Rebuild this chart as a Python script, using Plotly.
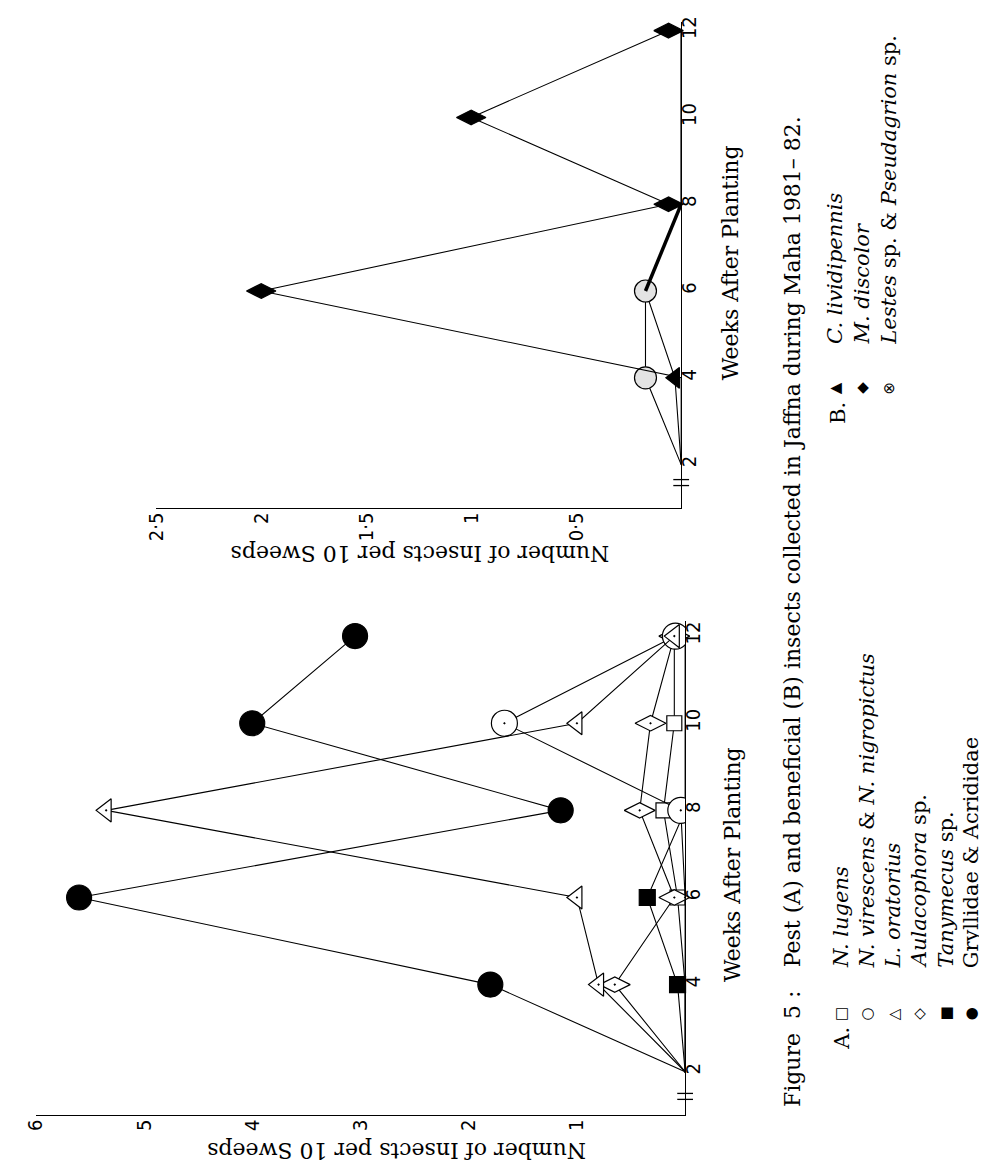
import plotly.graph_objects as go

# ---------------- data ----------------
weeks = [2, 4, 6, 8, 10, 12]

# Panel A (pests) - number of insects per 10 sweeps
a_lugens = [0, 0, 0.07, 0.2, 0.1, 0.1]
a_virescens = [0, 0, 0, 0.04, 1.67, 0.09]
a_oratorius = [0, 0.8, 1.0, 5.35, 1.0, 0.1]
a_aulacophora = [0, 0.65, 0.1, 0.42, 0.32, 0.1]
a_tanymecus = [0, 0.07, 0.35, 0, 0, 0]
a_gryllidae = [0, 1.8, 5.6, 1.15, 4.0, 3.05]

# Panel B (beneficials)
b_lividipennis = [0, 0.03, 0.17, 0, 0, 0]
b_discolor = [0, 0, 2.0, 0.06, 1.0, 0.06]
b_lestes = [0, 0.17, 0.17, 0, 0, 0]

a_count_ticks = [1, 2, 3, 4, 5, 6]
b_count_ticks = [0.5, 1, 1.5, 2, 2.5]
b_count_ticktext = ["0·5", "1", "1·5", "2", "2·5"]
week_ticks = [2, 4, 6, 8, 10, 12]

legend_a_symbols = ["□", "○", "△", "◇", "■", "●"]
legend_a_names = ["<i>N. lugens</i>",
                  "<i>N. virescens</i> & <i>N. nigropictus</i>",
                  "<i>L. oratorius</i>",
                  "<i>Aulacophora</i> sp.",
                  "<i>Tanymecus</i> sp.",
                  "Gryllidae & Acrididae"]
legend_b_symbols = ["▲", "◆", "⊗"]
legend_b_names = ["<i>C. lividipennis</i>",
                  "<i>M. discolor</i>",
                  "<i>Lestes</i> sp. & <i>Pseudagrion</i> sp."]

# ---------------- layout helpers ----------------
W, H = 987, 1166
SERIF = "DejaVu Serif, Liberation Serif, serif"
NARROW = "Liberation Sans Narrow, DejaVu Sans Condensed, Liberation Sans, sans-serif"


def px(x):
    return x / W


def py(y):
    return 1 - y / H


def ann(text, x, y, angle=-90, size=21, xanchor="center", yanchor="middle", family=SERIF):
    if angle == -90:
        x, y = x - 8, y - 7
    elif angle == 180:
        y = y - 4
    return dict(text=text, x=px(x), y=py(y), xref="paper", yref="paper",
                showarrow=False, textangle=angle,
                font=dict(family=family, size=size, color="black"),
                xanchor=xanchor, yanchor=yanchor)


fig = go.Figure()


def add(xs, ys, symbol, size, fill, axes, lw=1.1, mlw=1.2, clip=False, markers=True):
    xa, ya = axes
    sizes = [size if v > 0 else 0 for v in xs]
    fig.add_trace(go.Scatter(
        x=xs, y=ys, mode="lines+markers" if markers else "lines", xaxis=xa, yaxis=ya,
        line=dict(color="black", width=lw),
        marker=dict(symbol=symbol, size=sizes, color=fill, opacity=1,
                    line=dict(color="black", width=mlw)),
        cliponaxis=clip, showlegend=False, hoverinfo="skip"))


# Panel A traces (x = count, y = weeks; the page is rotated)
A = ("x", "y")
add(a_tanymecus, weeks, "square", 16, "black", A)
add(a_lugens, weeks, "square", 15, "white", A)
add(a_aulacophora, weeks, "diamond-wide-dot", 22, "white", A)
add(a_virescens, weeks, "circle-dot", 26, "white", A, clip=True)
add(a_oratorius, weeks, "triangle-left-dot", 20, "white", A)
add(a_gryllidae, weeks, "circle", 25, "black", A)

# Panel B traces
B = ("x2", "y2")
add(b_lividipennis, weeks, "triangle-left", 18, "black", B)
add(b_lestes, weeks, "circle", 22, "#e3e3e3", B)
add(b_lestes[2:4], weeks[2:4], "circle", 0, "black", B, lw=3.5, markers=False)
add(b_discolor, weeks, "diamond-wide", 21, "black", B)

axis_common = dict(showline=True, linecolor="black", linewidth=1.3, showgrid=False,
                   zeroline=False, ticks="", tickangle=-90,
                   tickfont=dict(family=NARROW, size=20, color="black"))

fig.update_layout(
    width=W, height=H, margin=dict(l=0, r=0, t=0, b=0),
    paper_bgcolor="white", plot_bgcolor="white", showlegend=False,
    xaxis=dict(domain=[px(15), px(673)], range=[6, 0], anchor="y",
               tickvals=a_count_ticks, ticklabelstandoff=-5, **axis_common),
    yaxis=dict(domain=[py(1107), py(610)], range=[1.0, 12.35], anchor="x", side="right",
               tickvals=week_ticks, ticklabelstandoff=-10, **axis_common),
    xaxis2=dict(domain=[px(137), px(669)], range=[2.5, 0], anchor="y2",
                tickvals=b_count_ticks, ticktext=b_count_ticktext, ticklabelstandoff=-5,
                **axis_common),
    yaxis2=dict(domain=[py(497), py(8)], range=[0.99, 12.2], anchor="x2", side="right",
                tickvals=week_ticks, ticklabelstandoff=-10, **axis_common),
)

# axis break marks
shapes = []
for yy in (1085, 1091):
    shapes.append(dict(type="line", xref="paper", yref="paper", x0=px(665), x1=px(681),
                       y0=py(yy), y1=py(yy), line=dict(color="black", width=1.3)))
for yy in (468, 474):
    shapes.append(dict(type="line", xref="paper", yref="paper", x0=px(661), x1=px(677),
                       y0=py(yy), y1=py(yy), line=dict(color="black", width=1.3)))
fig.update_layout(shapes=shapes)

anns = []
# axis titles
anns.append(ann("Weeks After Planting", 729, 862, size=22))
anns.append(ann("Weeks After Planting", 727, 257, size=22))
anns.append(ann("Number of Insects per 10 Sweeps", 380, 1147, angle=180, size=22))
anns.append(ann("Number of Insects per 10 Sweeps", 404, 547, angle=180, size=22))
# caption
anns.append(ann("Figure  5 :", 790, 1108, yanchor="bottom", size=22))
anns.append(ann("Pest (A) and beneficial (B) insects collected in Jaffna during Maha 1981– 82.",
                790, 967, yanchor="bottom", size=22))
# legend A
anns.append(ann("A.", 840, 1037, size=21))
row_x_a = [839, 865, 892, 918, 945, 971]
for sym, name, xx in zip(legend_a_symbols, legend_a_names, row_x_a):
    anns.append(ann(sym, xx, 1012, size=15, family="DejaVu Sans"))
    anns.append(ann(name, xx, 968, yanchor="bottom", size=21))
# legend B
anns.append(ann("B.", 836, 408, size=21))
row_x_b = [833, 860, 888]
for sym, name, xx in zip(legend_b_symbols, legend_b_names, row_x_b):
    anns.append(ann(sym, xx, 383, size=15, family="DejaVu Sans"))
    anns.append(ann(name, xx, 341, yanchor="bottom", size=21))

fig.update_layout(annotations=anns)

fig.write_html("out.html")
